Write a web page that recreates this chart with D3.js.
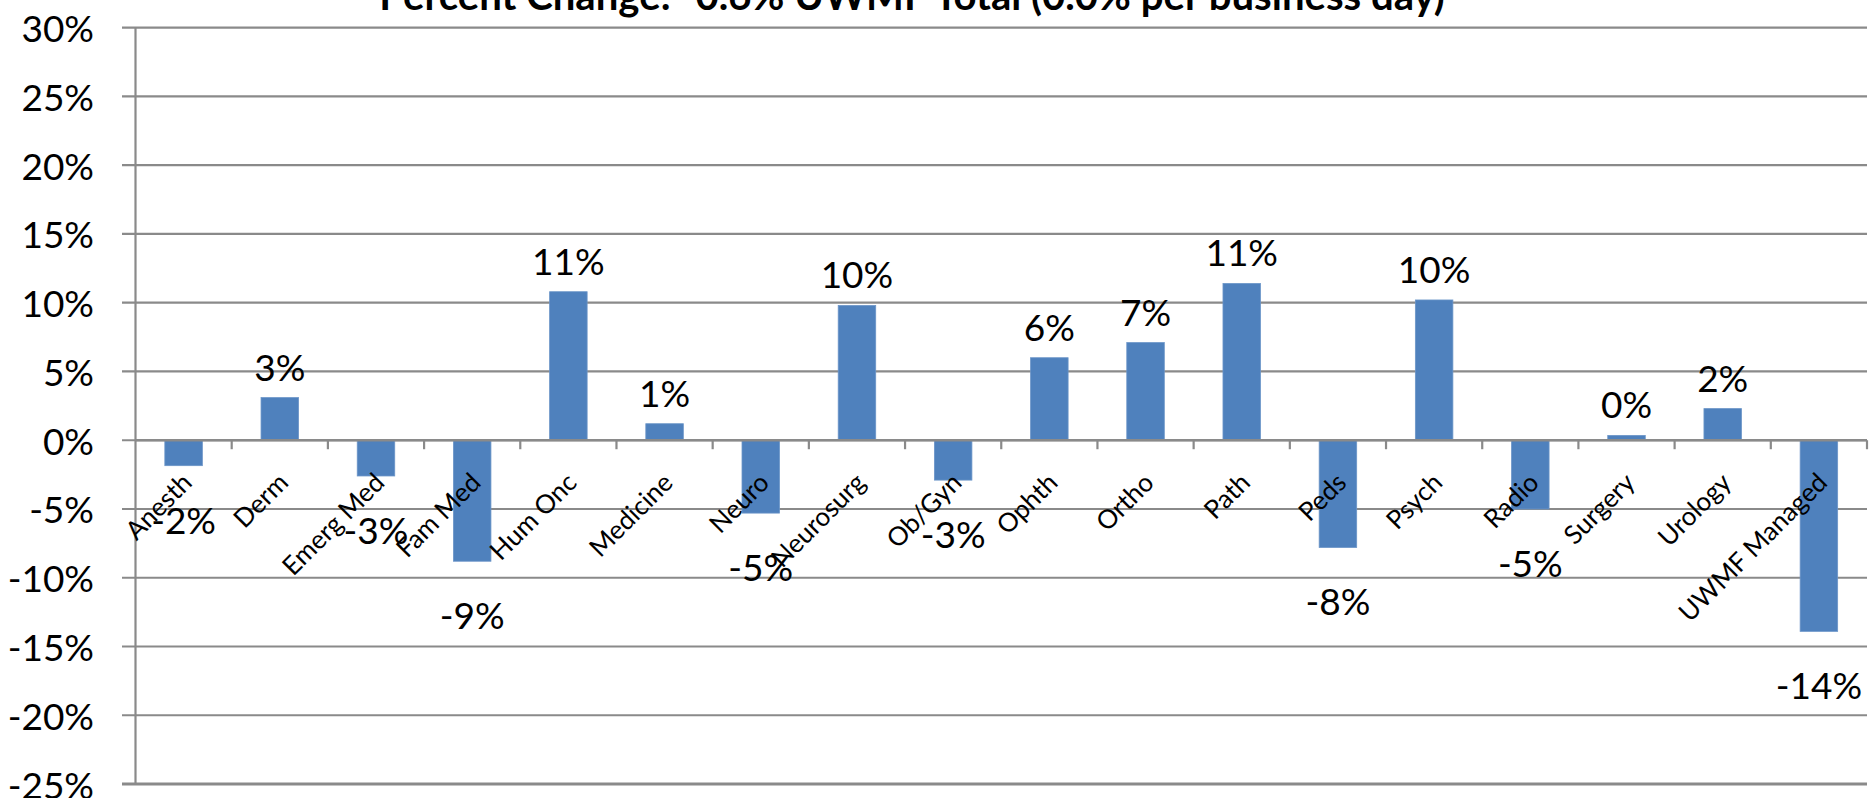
<!DOCTYPE html>
<html>
<head>
<meta charset="utf-8">
<script src="https://cdn.jsdelivr.net/npm/d3@7"></script>
<style>
  html, body { margin: 0; padding: 0; background: #ffffff; }
  svg { display: block; }
</style>
</head>
<body>
<svg id="chart" width="1870" height="798"></svg>
<script>
const categories = ["Anesth","Derm","Emerg Med","Fam Med","Hum Onc","Medicine","Neuro","Neurosurg","Ob/Gyn","Ophth","Ortho","Path","Peds","Psych","Radio","Surgery","Urology","UWMF Managed"];
const values = [-1.85, 3.1, -2.6, -8.8, 10.8, 1.2, -5.3, 9.8, -2.9, 6.0, 7.1, 11.4, -7.8, 10.2, -5.0, 0.35, 2.3, -13.9];
const yTicks = [-25, -20, -15, -10, -5, 0, 5, 10, 15, 20, 25, 30];
const titleText = "Percent Change: -0.6% UWMF Total (0.0% per business day)";

(function () {
const svg = d3.select("#chart");
const pLeft = 135.5, pRight = 1867, pTop = 27.7, pBottom = 784;
const font = "Lato, 'Open Sans', 'DejaVu Sans', sans-serif";
const gridColor = "#8a8a8a";

const x = d3.scaleBand().domain(categories).range([pLeft, pRight]).paddingInner(0.61).paddingOuter(0.305);
const xb = d3.scaleBand().domain(categories).range([pLeft, pRight]).padding(0);
const y = d3.scaleLinear().domain([-25, 30]).range([pBottom, pTop]);

// gridlines + y ticks
const g = svg.append("g");
g.selectAll("line.grid").data(yTicks).join("line")
  .attr("x1", pLeft - 13.5).attr("x2", pRight)
  .attr("y1", d => y(d)).attr("y2", d => y(d))
  .attr("stroke", gridColor).attr("stroke-width", d => d === -25 ? 3 : 2.2);

// y axis labels
g.selectAll("text.ytick").data(yTicks).join("text")
  .attr("x", 94).attr("y", d => y(d))
  .attr("text-anchor", "end").attr("dominant-baseline", "central")
  .attr("font-family", font).attr("font-size", 37).attr("fill", "#000")
  .text(d => `${d}%`);

// bars
svg.append("g").selectAll("rect").data(values).join("rect")
  .attr("x", (d, i) => x(categories[i]))
  .attr("width", x.bandwidth())
  .attr("y", d => y(Math.max(0, d)))
  .attr("height", d => Math.abs(y(d) - y(0)))
  .attr("fill", "#4F81BD")
  .attr("stroke", "#6b95c8").attr("stroke-width", 0.8);

// y axis line
svg.append("line").attr("x1", pLeft).attr("x2", pLeft).attr("y1", pTop).attr("y2", pBottom)
  .attr("stroke", gridColor).attr("stroke-width", 2.2);

// zero axis line + category ticks
svg.append("line").attr("x1", pLeft).attr("x2", pRight).attr("y1", y(0)).attr("y2", y(0))
  .attr("stroke", gridColor).attr("stroke-width", 2.4);
const bounds = categories.map(c => xb(c) + xb.bandwidth());
svg.append("g").selectAll("line").data(bounds).join("line")
  .attr("x1", d => d).attr("x2", d => d)
  .attr("y1", y(0)).attr("y2", y(0) + 9)
  .attr("stroke", gridColor).attr("stroke-width", 2.2);

// category labels, rotated
svg.append("g").selectAll("text").data(categories).join("text")
  .attr("transform", c => `translate(${x(c) + x.bandwidth() / 2 + 10},${y(0) + 44}) rotate(-45)`)
  .attr("text-anchor", "end")
  .attr("font-family", font).attr("font-size", 26).attr("fill", "#000")
  .text(c => c);

// value labels
svg.append("g").selectAll("text").data(values).join("text")
  .attr("x", (d, i) => x(categories[i]) + x.bandwidth() / 2)
  .attr("y", d => d >= 0 ? y(d) - 17 : y(d) + 68)
  .attr("text-anchor", "middle")
  .attr("font-family", font).attr("font-size", 37).attr("fill", "#000")
  .text(d => `${Math.round(d)}%`);

// title
const t = svg.append("text")
  .attr("x", 912).attr("y", 10)
  .attr("text-anchor", "middle")
  .attr("font-family", font).attr("font-weight", "bold").attr("font-size", 38).attr("fill", "#000")
  .text(titleText);
const w = t.node().getComputedTextLength();
if (w > 0) t.attr("font-size", 38 * 1066 / w);
})();
</script>
</body>
</html>
